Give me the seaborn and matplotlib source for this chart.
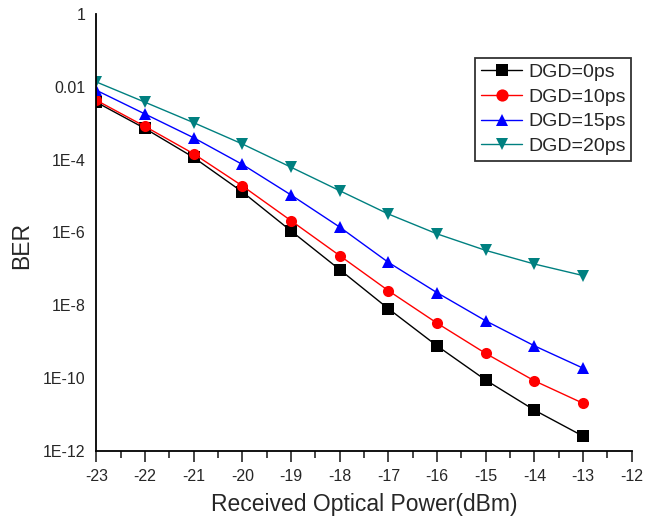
import numpy as np
import pandas as pd
import matplotlib
matplotlib.use("Agg")
import matplotlib.pyplot as plt
import seaborn as sns

power = [-23, -22, -21, -20, -19, -18, -17, -16, -15, -14, -13]
ber_0ps = [3.8e-3, 7.2e-4, 1.15e-4, 1.3e-5, 1.1e-6, 9.5e-8, 8e-9, 7.6e-10, 8.7e-11, 1.3e-11, 2.5e-12]
ber_10ps = [4.3e-3, 8.2e-4, 1.45e-4, 1.9e-5, 2.1e-6, 2.3e-7, 2.5e-8, 3.2e-9, 4.7e-10, 8.3e-11, 2e-11]
ber_15ps = [8.1e-3, 1.8e-3, 4e-4, 7.4e-5, 1.07e-5, 1.4e-6, 1.5e-7, 2.2e-8, 3.7e-9, 7.6e-10, 1.85e-10]
ber_20ps = [1.37e-2, 3.8e-3, 1.04e-3, 2.7e-4, 6.2e-5, 1.4e-5, 3.2e-6, 9.1e-7, 3.2e-7, 1.35e-7, 6.5e-8]
series_names = ["DGD=0ps", "DGD=10ps", "DGD=15ps", "DGD=20ps"]
series_colors = ["#000000", "#FF0000", "#0000FF", "#008080"]
series_markers = ["s", "o", "^", "v"]
ytick_values = [1e-12, 1e-10, 1e-8, 1e-6, 1e-4, 1e-2, 1]
ytick_labels = ["1E-12", "1E-10", "1E-8", "1E-6", "1E-4", "0.01", "1"]
xtick_values = [-23, -22, -21, -20, -19, -18, -17, -16, -15, -14, -13, -12]

df = pd.concat([
    pd.DataFrame({"power": power, "BER": vals, "series": name})
    for name, vals in zip(series_names, [ber_0ps, ber_10ps, ber_15ps, ber_20ps])
])

sns.set_style("white")
plt.rcParams["font.family"] = ["Liberation Sans", "DejaVu Sans"]
plt.rcParams["axes.unicode_minus"] = False

fig = plt.figure(figsize=(6.46, 5.24), dpi=100)
ax = fig.add_axes([0.149, 0.140, 0.829, 0.833])

sns.lineplot(data=df, x="power", y="BER", hue="series", style="series",
             hue_order=series_names, style_order=series_names,
             palette=dict(zip(series_names, series_colors)),
             markers=dict(zip(series_names, series_markers)),
             dashes=False, markersize=8, linewidth=1.0,
             markeredgewidth=0, ax=ax)

ax.set_yscale("log")
ax.set_ylim(1e-12, 1)
ax.set_xlim(-23, -12)
ax.set_yticks(ytick_values)
ax.set_yticklabels(ytick_labels)
ax.yaxis.set_minor_locator(matplotlib.ticker.NullLocator())
ax.set_xticks(xtick_values)
ax.set_xticks(np.arange(-22.5, -12, 1.0), minor=True)
ax.tick_params(axis="y", length=0, labelsize=11.5, pad=8)
ax.tick_params(axis="x", which="major", direction="out", length=8, width=1.2,
               labelsize=11.5, pad=5, bottom=True)
ax.tick_params(axis="x", which="minor", direction="out", length=5, width=1.2, bottom=True)

for side in ["top", "right"]:
    ax.spines[side].set_visible(False)
for side in ["left", "bottom"]:
    ax.spines[side].set_color("black")
    ax.spines[side].set_linewidth(1.3)

ax.set_xlabel("Received Optical Power(dBm)", fontsize=16.5, labelpad=7)
ax.set_ylabel("BER", fontsize=16.5)
ax.yaxis.set_label_coords(-0.118, 0.47)

leg = ax.legend(loc="upper left", bbox_to_anchor=(0.708, 0.90), fontsize=14,
                frameon=True, fancybox=False, edgecolor="black",
                handlelength=2.1, handletextpad=0.3, borderpad=0.3,
                labelspacing=0.36, borderaxespad=0, markerscale=1.1)
leg.get_frame().set_linewidth(1.3)

fig.savefig("out.png", dpi=100)
